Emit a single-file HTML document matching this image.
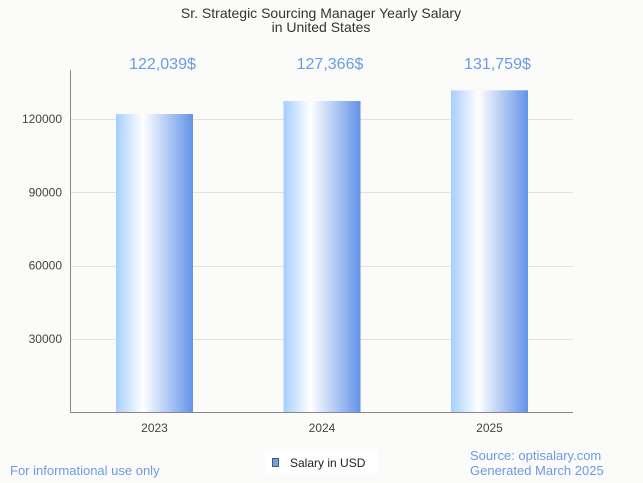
<!DOCTYPE html>
<html><head><meta charset="utf-8"><style>
body{margin:0;background:#fbfbf9;}
svg{display:block;font-family:"Liberation Sans",sans-serif;}
</style></head><body>
<svg width="643" height="483">
<defs><linearGradient id="bg" x1="0" x2="1" y1="0" y2="0">
<stop offset="0" stop-color="#a6cffc"/><stop offset="0.35" stop-color="#ffffff"/><stop offset="1" stop-color="#6393e8"/>
</linearGradient></defs>
<rect width="643" height="483" fill="#fbfbf9"/>
<text x="321" y="18" text-anchor="middle" font-size="14" fill="#333">Sr. Strategic Sourcing Manager Yearly Salary</text>
<text x="321" y="32" text-anchor="middle" font-size="14" fill="#333">in United States</text>
<g id="grid"></g><g id="bars"></g>
<line x1="70.5" y1="70" x2="70.5" y2="412" stroke="#888"/>
<line x1="70" y1="412.5" x2="573" y2="412.5" stroke="#888"/>
<text x="10" y="475" font-size="13" fill="#6b9be6">For informational use only</text>
<text x="470" y="460" font-size="13" fill="#6b9be6">Source: optisalary.com</text>
<text x="470" y="475" font-size="13" fill="#6b9be6">Generated March 2025</text>
<g>
<rect x="265" y="451" width="113" height="22" fill="#fff"/>
<rect x="272.5" y="458.5" width="6" height="8" fill="#6aa3e8" stroke="#555"/>
<text x="290" y="467" font-size="12" fill="#222">Salary in USD</text>
</g>
</svg>
<script>
const categories=["2023","2024","2025"];
const values=[122039,127366,131759];
const labels=["122,039$","127,366$","131,759$"];
const yTicks=[30000,60000,90000,120000];
const ns="http://www.w3.org/2000/svg";
const y=v=>412-v*(412-119)/120000;
const x=i=>116+i*167.5;
const grid=document.getElementById('grid'),bars=document.getElementById('bars');
function mk(p,t,a){const e=document.createElementNS(ns,t);for(const k in a)e.setAttribute(k,a[k]);p.appendChild(e);return e;}
yTicks.forEach(t=>{
 const l=mk(grid,'line',{x1:70,x2:573,y1:Math.round(y(t))+0.5,y2:Math.round(y(t))+0.5,stroke:'#e2e2e2'});
 
 
 const tx=mk(grid,'text',{x:62,y:y(t)+4,'text-anchor':'end','font-size':12,fill:'#444'});tx.textContent=t;
 
 
});
categories.forEach((c,i)=>{
 const r=mk(bars,'rect',{x:x(i),y:y(values[i]),width:77,height:412-y(values[i]),fill:'url(#bg)'});
 
 
 const v=mk(bars,'text',{x:x(i)+46.5,y:69,'text-anchor':'middle','font-size':16,fill:'#6b9be6'});v.textContent=labels[i];
 
 
 const t=mk(bars,'text',{x:x(i)+38.5,y:432,'text-anchor':'middle','font-size':12,fill:'#444'});t.textContent=c;
 
 
});
</script>
</body></html>
